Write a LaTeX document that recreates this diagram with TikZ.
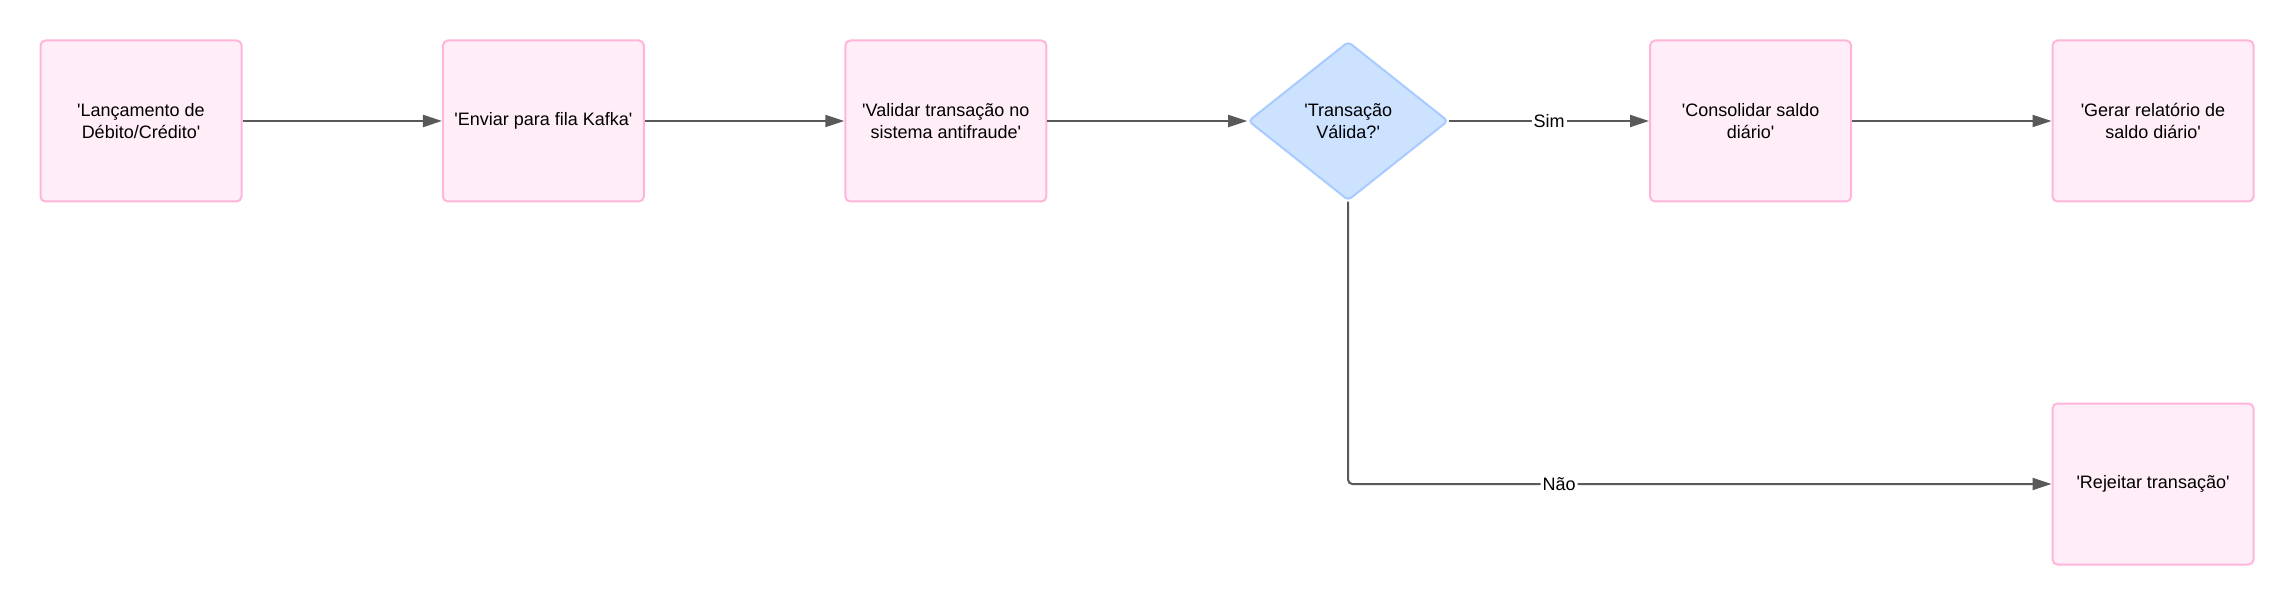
\documentclass[tikz,border=0pt]{standalone}
\usepackage{fontspec}
\setmainfont{Liberation Sans}
\usetikzlibrary{shapes.geometric,arrows.meta}
\definecolor{boxpink}{HTML}{FFEEF8}
\definecolor{edgepink}{HTML}{FFB5DA}
\definecolor{decblue}{HTML}{CCE2FF}
\definecolor{edgeblue}{HTML}{A8CBFF}
\definecolor{linegray}{HTML}{595959}
\newcommand{\qt}{\textquotesingle}

\begin{document}
\begin{tikzpicture}[
  txt/.style={font=\fontsize{9pt}{11pt}\selectfont},
  proc/.style={txt, rectangle, rounded corners=2.5pt, draw=edgepink, fill=boxpink, line width=1pt, minimum width=100.5pt, minimum height=80.5pt, align=center, inner sep=0pt},
  choice/.style={txt, diamond, aspect=1, rounded corners=2pt, draw=edgeblue, fill=decblue, line width=1pt, minimum width=100pt, minimum height=79.5pt, align=center, inner sep=0pt},
  flow/.style={draw=linegray, line width=1pt, -{Triangle[length=9.5pt,width=6pt]}},
  lbl/.style={txt, fill=white, inner sep=1pt}]
\useasboundingbox (0,0) rectangle (1147.5pt,303pt);

\node[proc] (0) at (70.5pt,242.5pt) {\qt Lançamento de\\Débito/Crédito\qt};
\node[proc] (1) at (271.7pt,242.5pt) {\qt Enviar para fila Kafka\qt};
\node[proc] (2) at (472.9pt,242.5pt) {\qt Validar transação no\\sistema antifraude\qt};
\node[choice] (3) at (674.1pt,242.5pt) {\qt Transação\\Válida?\qt};
\node[proc] (4) at (875.3pt,242.5pt) {\qt Consolidar saldo\\diário\qt};
\node[proc] (5) at (1076.5pt,242.5pt) {\qt Gerar relatório de\\saldo diário\qt};
\node[proc] (6) at (1076.5pt,61pt) {\qt Rejeitar transação\qt};

\draw[flow] (0) -- (1);
\draw[flow] (1) -- (2);
\draw[flow] (2) -- (3);
\draw[flow] (3) -- node[lbl] {Sim} (4);
\draw[flow] (4) -- (5);
\draw[flow, rounded corners=2pt] (3) |- node[lbl, pos=0.65] {Não} (6);

\end{tikzpicture}
\end{document}
